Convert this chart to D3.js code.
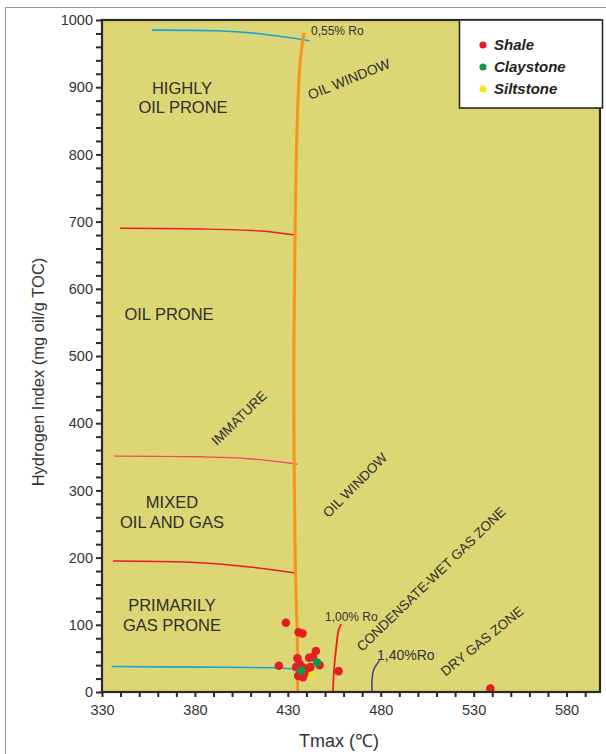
<!DOCTYPE html>
<html>
<head>
<meta charset="utf-8">
<script src="https://cdn.jsdelivr.net/npm/d3@7"></script>
<style>
  html, body { margin: 0; padding: 0; background: #fff; }
  svg { display: block; font-family: "Liberation Sans", Arial, sans-serif; }
</style>
</head>
<body>
<svg id="chart" width="606" height="754"></svg>
<script>
// ---- Data ----
const xTicks = [330, 380, 430, 480, 530, 580];
const yTicks = [0, 100, 200, 300, 400, 500, 600, 700, 800, 900, 1000];

// Samples: [Tmax (°C), HI (mg HC/g TOC)]
const shale = [
  [429.0, 103], [435.8, 89], [437.9, 87], [445.1, 61], [441.5, 51],
  [435.2, 50], [425.2, 39], [447.1, 40], [457.3, 31], [436.3, 42],
  [437.6, 37], [436.7, 30], [438.1, 22], [442.1, 37], [440.3, 35],
  [434.5, 37], [438.8, 27], [435.6, 24], [443.5, 52], [539.0, 5]
];
const claystone = [[445.7, 44], [437.2, 32]];
const siltstone = [[442.1, 28]];

// Maturity / kerogen boundaries
const oilWindowTop = [
  [438.8, 981], [436.7, 940], [435.1, 851], [434.0, 702],
  [433.2, 464], [434.0, 196], [435.1, 77], [435.3, 0]
];
const ro055 = [[356.9, 985], [391.8, 984], [413.4, 980], [427.7, 975], [441.7, 969]];
const hi700 = [[339.7, 690], [382.8, 689], [415.1, 686], [434.0, 680]];
const hi350 = [[336.5, 351], [382.8, 350], [409.7, 347], [435.1, 339]];
const hi200 = [[335.9, 195], [377.4, 193], [409.7, 186], [434.0, 177]];
const hi35 = [[335.2, 38], [382.8, 37], [422.1, 36], [434.9, 34]];
const ro100 = [[458.8, 101], [457.3, 92], [456.1, 67], [455.0, 38], [454.3, 0]];
const ro140 = [[479.4, 47], [476.2, 33], [475.3, 18], [475.3, 0]];

// ---- Layout ----
const svg = d3.select("#chart");
const x = d3.scaleLinear().domain([330, 598]).range([102, 600]);
const y = d3.scaleLinear().domain([0, 1000]).range([692, 20]);
const ink = "#2b2a29";

// outer frame
svg.append("rect").attr("x", 5.5).attr("y", 7.5).attr("width", 620).attr("height", 770)
  .attr("fill", "none").attr("stroke", "#9a9a9a").attr("stroke-width", 1);

// plot background
svg.append("rect")
  .attr("x", x(330)).attr("y", y(1000))
  .attr("width", x(598) - x(330)).attr("height", y(0) - y(1000))
  .attr("fill", "#dcd675");

// curves
const line = d3.line().x(d => x(d[0])).y(d => y(d[1])).curve(d3.curveCatmullRom.alpha(0.5));
const curves = [
  [ro055, "#1aa3dc", 1.6],
  [hi700, "#ec1c24", 1.4],
  [hi350, "#ec4a6e", 1.4],
  [hi200, "#ec1c24", 1.4],
  [hi35, "#1aa3dc", 1.6],
  [ro100, "#ec1c24", 1.8],
  [ro140, "#2e3a8c", 1.4],
  [oilWindowTop, "#f7941d", 3]
];
curves.forEach(([pts, col, w]) => {
  svg.append("path").datum(pts).attr("d", line)
    .attr("fill", "none").attr("stroke", col).attr("stroke-width", w);
});

// sample points
function dots(data, col) {
  svg.append("g").selectAll("circle").data(data).join("circle")
    .attr("cx", d => x(d[0])).attr("cy", d => y(d[1])).attr("r", 4.3)
    .attr("fill", col);
}
dots(siltstone, "#f3e51d");
dots(shale, "#e31e24");
dots(claystone, "#0f9a48");

// axes
const xAxis = d3.axisBottom(x).tickValues(d3.range(330, 600, 10)).tickSize(5)
  .tickFormat(d => xTicks.includes(d) ? d : "").tickPadding(8);
const gx = svg.append("g").attr("transform", `translate(0,${y(0)})`).call(xAxis);
const yAxis = d3.axisLeft(y).tickValues(d3.range(0, 1001, 20)).tickSize(6)
  .tickFormat(d => yTicks.includes(d) ? d : "").tickPadding(3);
const gy = svg.append("g").attr("transform", `translate(${x(330)},0)`).call(yAxis);
[gx, gy].forEach(g => {
  g.select(".domain").remove();
  g.selectAll(".tick line").attr("stroke", ink).attr("stroke-width", 2);
  g.selectAll(".tick text").attr("fill", "#333").style("font-size", "14.5px");
});

// plot border
svg.append("rect")
  .attr("x", x(330)).attr("y", y(1000))
  .attr("width", x(598) - x(330)).attr("height", y(0) - y(1000))
  .attr("fill", "none").attr("stroke", ink).attr("stroke-width", 2.2);

// axis titles
svg.append("text").attr("x", 339).attr("y", 747).attr("text-anchor", "middle")
  .attr("fill", "#333").style("font-size", "18px").text("Tmax (℃)");
svg.append("text").attr("transform", "translate(44,372) rotate(-90)").attr("text-anchor", "middle")
  .attr("fill", "#333").style("font-size", "16.5px").text("Hydrogen Index (mg oil/g TOC)");

// region labels
const regionText = [
  ["HIGHLY", 182, 94], ["OIL PRONE", 183, 113],
  ["OIL PRONE", 169, 320],
  ["MIXED", 172, 508], ["OIL AND GAS", 172, 528],
  ["PRIMARILY", 172, 611], ["GAS PRONE", 172, 631]
];
regionText.forEach(([t, tx, ty]) => {
  svg.append("text").attr("x", tx).attr("y", ty).attr("text-anchor", "middle")
    .attr("fill", "#2f2e2c").style("font-size", "16.5px").text(t);
});

// rotated zone labels
const zoneText = [
  ["OIL WINDOW", 349, 79, -22, 14],
  ["IMMATURE", 239, 418, -44, 13.5],
  ["OIL WINDOW", 355, 485, -45, 13.5],
  ["CONDENSATE-WET GAS ZONE", 431, 579, -44, 13.5],
  ["DRY GAS ZONE", 482, 641, -39, 13.5]
];
zoneText.forEach(([t, tx, ty, a, fs]) => {
  svg.append("text").attr("transform", `translate(${tx},${ty}) rotate(${a})`)
    .attr("text-anchor", "middle").attr("dy", "0.35em")
    .attr("fill", "#2f2e2c").style("font-size", fs + "px").text(t);
});

// maturity labels
svg.append("text").attr("x", 311).attr("y", 35).attr("fill", "#333").style("font-size", "12px").text("0,55% Ro");
svg.append("text").attr("x", 325).attr("y", 621).attr("fill", "#333").style("font-size", "12px").text("1,00% Ro");
svg.append("text").attr("x", 377).attr("y", 660).attr("fill", "#333").style("font-size", "14px").text("1,40%Ro");

// legend
const lg = svg.append("g");
lg.append("rect").attr("x", 459.5).attr("y", 20).attr("width", 143).attr("height", 88)
  .attr("fill", "#fff").attr("stroke", ink).attr("stroke-width", 1.6);
const legendItems = [["Shale", "#e31e24"], ["Claystone", "#0f9a48"], ["Siltstone", "#f3e51d"]];
legendItems.forEach(([name, col], i) => {
  const ly = 45 + i * 22;
  lg.append("circle").attr("cx", 483).attr("cy", ly).attr("r", 3.6).attr("fill", col);
  lg.append("text").attr("x", 494).attr("y", ly + 5).attr("fill", "#231f20")
    .style("font-size", "15px").style("font-weight", "bold").style("font-style", "italic").text(name);
});
</script>
</body>
</html>
